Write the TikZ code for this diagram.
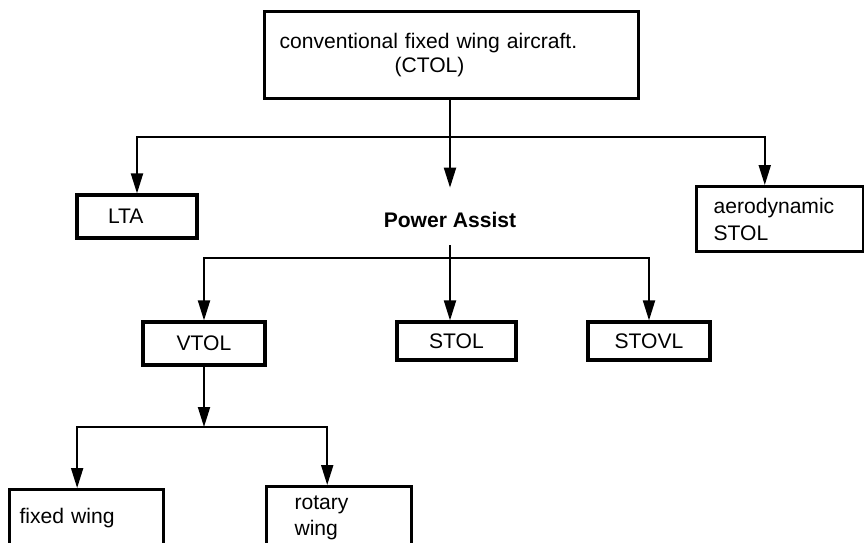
\documentclass[tikz,border=0pt]{standalone}
\usepackage{fontspec}
\setmainfont{Liberation Sans}
\usetikzlibrary{positioning,arrows.meta,calc}

\begin{document}
\begin{tikzpicture}[
  x=0.02cm, y=-0.02cm,
  font=\fontsize{12}{14}\selectfont,
  >={Triangle[length=4mm,width=2.4mm]},
  box/.style={rectangle, draw=black, line width=1.8pt, align=left,
              inner ysep=0pt, minimum height=0.86cm},
  flow/.style={->, draw=black, line width=1.1pt},
  headLabel/.style={font=\bfseries\fontsize{12}{14}\selectfont, inner ysep=0.3cm,
                    text height=0.49cm, text depth=0.05cm}
]
\useasboundingbox (0,0) rectangle (864,542);

% ===== Level 0 — conventional aircraft ================================
\node[box, anchor=north west, text width=6.88cm, inner xsep=0.3cm,
      minimum height=1.74cm] (ctol) at (263,10)
  {conventional fixed wing aircraft.\\\hspace*{2.3cm}(CTOL)};

% ===== Level 1 — LTA, power assist, aerodynamic STOL ==================
\node[box, text width=1.16cm, inner xsep=0.62cm] (lta) at (137,216.5) {LTA};
\node[headLabel, anchor=base] (pa) at (450,227.5) {Power Assist};
\node[box, anchor=north west, text width=2.66cm, inner xsep=0.34cm,
      minimum height=1.3cm, font=\fontsize{12}{15.5}\selectfont] (aero) at (695,185)
  {aerodynamic\\STOL};

\coordinate (hubA) at (450,137);
\draw[flow] (pa.north |- ctol.south) -- (pa.north);
\draw[flow] (hubA) -| (lta.north);
\draw[flow] (hubA) -| ($(aero.north west)!0.41!(aero.north east)$);

% ===== Level 2 — powered lift families ================================
\node[box, minimum width=2.44cm] (vtol) at (204,343.5) {VTOL};
\node[box, minimum width=2.38cm, minimum height=0.76cm] (stol) at (456.5,341) {STOL};
\node[box, minimum width=2.44cm, minimum height=0.76cm] (stovl) at (649,341) {STOVL};

\coordinate (hubB) at (450,258);
\draw[flow] (pa.south) -- (pa.south |- stol.north);
\draw[flow] (hubB) -| (vtol.north);
\draw[flow] (hubB) -| (stovl.north);

% ===== Level 3 — VTOL split ===========================================
\node[box, anchor=north west, text width=2.68cm, inner xsep=0.2cm,
      minimum height=1.14cm] (fixed) at (8,488) {fixed wing};
\node[box, anchor=north west, text width=1.78cm, inner xsep=0.56cm,
      minimum height=1.26cm, font=\fontsize{12}{15}\selectfont] (rotary) at (265,485)
  {rotary\\wing};

\coordinate (hubC) at (204,427);
\draw[flow] (vtol.south) -- (hubC);
\draw[flow] (hubC) -| ($(fixed.north west)!0.44!(fixed.north east)$);
\draw[flow] (hubC) -| ($(rotary.north west)!0.42!(rotary.north east)$);

\end{tikzpicture}
\end{document}
